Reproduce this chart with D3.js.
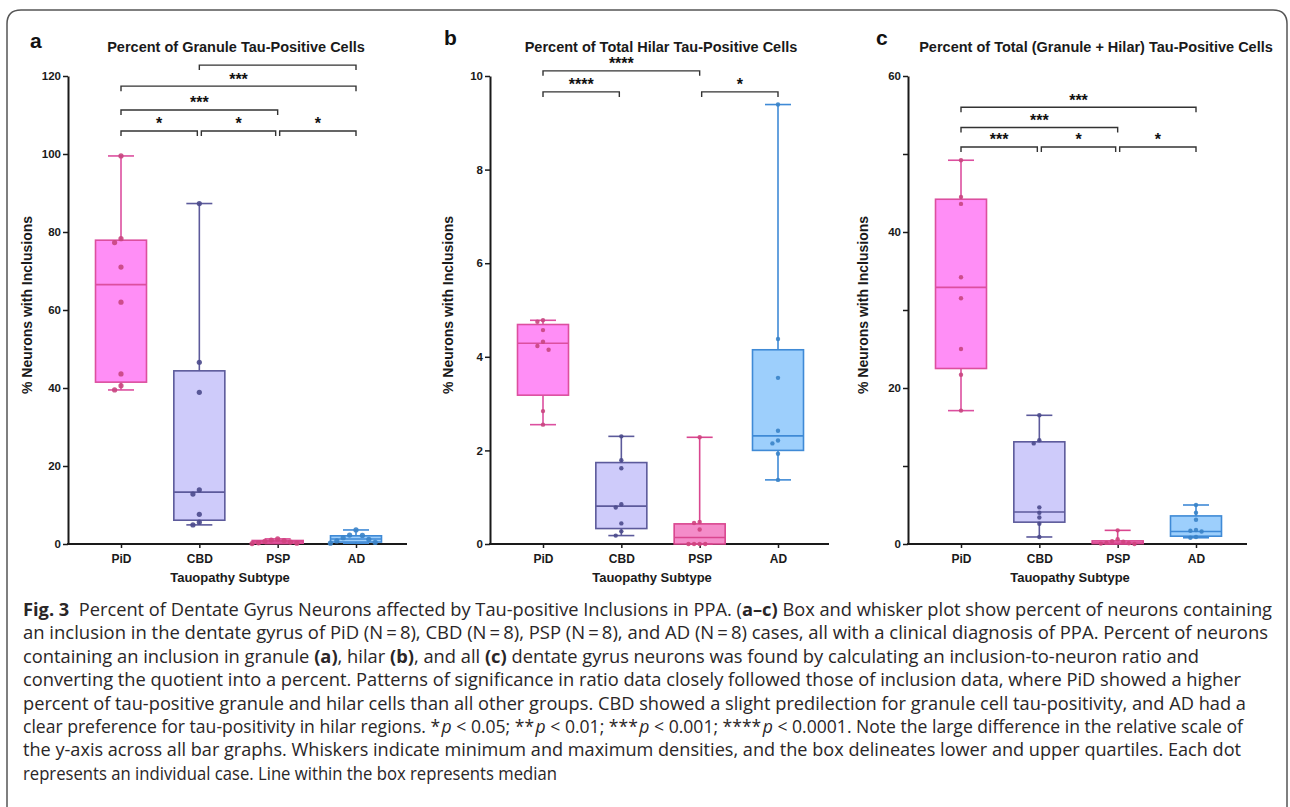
<!DOCTYPE html>
<html>
<head>
<meta charset="utf-8">
<title>Fig. 3</title>
<script src="https://d3js.org/d3.v7.min.js"></script>
<style>
  body { margin: 0; background: #fff; }
  svg text { font-family: "Liberation Sans", Arial, sans-serif; }
  .cap text { font-family: "Open Sans", "Noto Sans", sans-serif; }
</style>
</head>
<body>
<script>
const cats = ["PiD", "CBD", "PSP", "AD"];

// panel a - granule (% neurons with inclusions), one row per category
const granulePts = [
  [99.5, 78.3, 77.3, 71.0, 62.0, 43.6, 40.6, 39.5],
  [87.3, 46.6, 38.9, 13.9, 12.8, 7.6, 5.6, 4.9],
  [1.3, 1.0, 0.9, 0.7, 0.5, 0.3, 0.2, 0.1],
  [3.6, 2.3, 2.2, 1.6, 1.2, 0.8, 0.4, 0.2]
];
// min, q1, median, q3, max
const granuleBox = [
  [39.5, 41.5, 66.5, 77.9, 99.5],
  [4.9, 6.1, 13.3, 44.4, 87.3],
  [0.1, 0.2, 0.6, 0.9, 1.3],
  [0.2, 0.5, 1.3, 2.1, 3.6]
];
const granuleSig = [
  ["PiD", "CBD", 105.9, "*"], ["CBD", "PSP", 105.9, "*"], ["PSP", "AD", 105.9, "*"],
  ["PiD", "PSP", 111.3, "***"], ["PiD", "AD", 117.4, "***"], ["CBD", "AD", 122.8, ""]
];

// panel b - hilar
const hilarPts = [
  [4.78, 4.75, 4.57, 4.32, 4.23, 4.15, 2.84, 2.55],
  [2.30, 1.79, 1.62, 0.85, 0.78, 0.44, 0.27, 0.18],
  [2.28, 0.47, 0.45, 0.31, 0, 0, 0, 0],
  [9.39, 4.38, 3.55, 2.42, 2.21, 2.15, 1.93, 1.37]
];
const hilarBox = [
  [2.55, 3.18, 4.29, 4.69, 4.78],
  [0.18, 0.33, 0.81, 1.74, 2.30],
  [0, 0, 0.14, 0.43, 2.28],
  [1.37, 2.0, 2.31, 4.15, 9.39]
];
const hilarSig = [
  ["PiD", "CBD", 9.66, "****"], ["PSP", "AD", 9.66, "*"], ["PiD", "PSP", 10.11, "****"]
];

// panel c - total (granule + hilar)
const totalPts = [
  [49.2, 44.5, 43.6, 34.2, 31.5, 25.0, 21.7, 17.1],
  [16.5, 13.3, 12.9, 4.7, 4.0, 3.4, 2.6, 0.9],
  [1.75, 0.6, 0.35, 0.3, 0.15, 0.1, 0.05, 0],
  [5.0, 4.0, 3.1, 1.8, 1.7, 1.6, 0.9, 0.8]
];
const totalBox = [
  [17.1, 22.5, 32.9, 44.2, 49.2],
  [0.9, 2.8, 4.1, 13.1, 16.5],
  [0, 0.05, 0.12, 0.4, 1.75],
  [0.8, 1.0, 1.6, 3.6, 5.0]
];
const totalSig = [
  ["PiD", "CBD", 50.9, "***"], ["CBD", "PSP", 50.9, "*"], ["PSP", "AD", 50.9, "*"],
  ["PiD", "PSP", 53.4, "***"], ["PiD", "AD", 56.0, "***"]
];

const fills   = ["#ff8ef6", "#cecbfa", "#f48cc9", "#9dcffc"];
const strokes = ["#dc4f9f", "#5c5a9b", "#d9468f", "#3f8ad6"];
const dots    = ["#c8467f", "#4b4a8c", "#cf437e", "#3a83c8"];

const svg = d3.select("body").append("svg").attr("width", 1290).attr("height", 807);

// rounded frame
svg.append("path")
  .attr("d", "M7,810 V24 Q7,10 21,10 H1273 Q1287,10 1287,24 V810")
  .attr("fill", "none").attr("stroke", "#555").attr("stroke-width", 1.5);

const panels = [
  { x0: 68, letter: "a", lx: 30, ly: 48, title: "Percent of Granule Tau-Positive Cells", tx: 236, ylx: 27.5,
    yMax: 120, tickStep: 20, labelStep: 20, pts: granulePts, box: granuleBox, sig: granuleSig, r: 2.6 },
  { x0: 490, letter: "b", lx: 444, ly: 45, title: "Percent of Total Hilar Tau-Positive Cells", tx: 661, ylx: 448,
    yMax: 10, tickStep: 2, labelStep: 2, pts: hilarPts, box: hilarBox, sig: hilarSig, r: 2.2 },
  { x0: 908, letter: "c", lx: 876, ly: 45, title: "Percent of Total (Granule + Hilar) Tau-Positive Cells", tx: 1096, ylx: 863,
    yMax: 60, tickStep: 10, labelStep: 20, pts: totalPts, box: totalBox, sig: totalSig, r: 2.2 }
];

function dodge(vals, y, r) {
  const items = vals.map(v => ({ v, py: y(v), dx: 0 })).sort((a, b) => a.py - b.py);
  const step = 2 * r + 1.2;
  let group = [];
  const flush = () => {
    group.forEach((it, j) => { it.dx = j === 0 ? 0 : (j % 2 ? -1 : 1) * Math.ceil(j / 2) * step; });
    group = [];
  };
  items.forEach(it => {
    if (group.length && it.py - group[group.length - 1].py > 2 * r) flush();
    group.push(it);
  });
  flush();
  return items;
}

panels.forEach(p => {
  const g = svg.append("g");
  const y = d3.scaleLinear().domain([0, p.yMax]).range([544, 76]);
  const x = d3.scalePoint().domain(cats).range([p.x0 + 53, p.x0 + 288]);

  // letter + title
  g.append("text").attr("x", p.lx).attr("y", p.ly).attr("font-size", 21).attr("font-weight", "bold")
    .attr("fill", "#111").text(p.letter);
  g.append("text").attr("x", p.tx).attr("y", 52).attr("text-anchor", "middle").attr("font-size", 14.5)
    .attr("font-weight", "bold").attr("fill", "#1a1a1a").text(p.title);

  // y axis
  const yAxis = d3.axisLeft(y)
    .tickValues(d3.range(0, p.yMax + 1e-6, p.tickStep))
    .tickSize(5).tickSizeOuter(0).tickPadding(2)
    .tickFormat(v => Math.abs(v / p.labelStep - Math.round(v / p.labelStep)) < 1e-6 ? d3.format("d")(v) : "");
  const ya = g.append("g").attr("transform", `translate(${p.x0},0)`).call(yAxis);
  ya.select(".domain").attr("stroke", "#1a1a1a").attr("stroke-width", 2);
  ya.selectAll(".tick line").attr("stroke", "#1a1a1a").attr("stroke-width", 1.5);
  ya.selectAll(".tick text").attr("font-size", 11.5).attr("font-weight", "bold").attr("fill", "#1a1a1a")
    .attr("font-family", "Liberation Sans, Arial, sans-serif");

  // x axis
  const xAxis = d3.axisBottom(x).tickSize(4).tickSizeOuter(0).tickPadding(6);
  const xa = g.append("g").attr("transform", "translate(0,544)").call(xAxis);
  xa.select(".domain").remove();
  xa.append("line").attr("x1", p.x0 - 1).attr("x2", p.x0 + 339).attr("stroke", "#1a1a1a").attr("stroke-width", 2);
  xa.selectAll(".tick line").attr("stroke", "#1a1a1a").attr("stroke-width", 1.5);
  xa.selectAll(".tick text").attr("font-size", 12).attr("font-weight", "bold").attr("fill", "#1a1a1a")
    .attr("font-family", "Liberation Sans, Arial, sans-serif");

  // axis titles
  g.append("text").attr("x", p.x0 + 162).attr("y", 582).attr("text-anchor", "middle").attr("font-size", 13)
    .attr("font-weight", "bold").attr("fill", "#1a1a1a").text("Tauopathy Subtype");
  g.append("text").attr("transform", `translate(${p.ylx},305) rotate(-90)`).attr("dy", "0.35em")
    .attr("text-anchor", "middle").attr("font-size", 14).attr("font-weight", "bold").attr("fill", "#1a1a1a")
    .text("% Neurons with Inclusions");

  // boxes
  cats.forEach((c, i) => {
    const [mn, q1, md, q3, mx] = p.box[i];
    const cx = x(c);
    const bg = g.append("g").attr("stroke", strokes[i]).attr("stroke-width", 1.6);
    bg.append("rect").attr("x", cx - 25.5).attr("y", y(q3)).attr("width", 51)
      .attr("height", Math.max(0.5, y(q1) - y(q3))).attr("fill", fills[i]);
    bg.append("line").attr("x1", cx - 25.5).attr("x2", cx + 25.5).attr("y1", y(md)).attr("y2", y(md));
    bg.append("line").attr("x1", cx).attr("x2", cx).attr("y1", y(mx)).attr("y2", y(q3));
    bg.append("line").attr("x1", cx).attr("x2", cx).attr("y1", y(q1)).attr("y2", y(mn));
    [mn, mx].forEach(v => bg.append("line").attr("x1", cx - 13).attr("x2", cx + 13).attr("y1", y(v)).attr("y2", y(v)));

    g.append("g").selectAll("circle").data(dodge(p.pts[i], y, p.r)).join("circle")
      .attr("cx", d => cx + d.dx).attr("cy", d => d.py).attr("r", p.r)
      .attr("fill", dots[i]).attr("opacity", 0.9);
  });

  // significance brackets
  p.sig.forEach(([a, b, v, lab]) => {
    const adj = Math.abs(cats.indexOf(b) - cats.indexOf(a)) === 1;
    const x1 = x(a) + (adj && a !== "PiD" ? 2 : 0);
    const x2 = x(b) - (adj && b !== "AD" ? 2 : 0);
    const yy = y(v);
    g.append("path").attr("d", `M${x1},${yy + 5}V${yy}H${x2}V${yy + 5}`)
      .attr("fill", "none").attr("stroke", "#333").attr("stroke-width", 1.4);
    if (lab) {
      g.append("text").attr("x", (x1 + x2) / 2).attr("y", yy - 1.5).attr("text-anchor", "middle")
        .attr("font-size", 16).attr("font-weight", "bold").attr("fill", "#111").text(lab);
    }
  });
});

// caption: each line is a list of [text, style]
const captionLines = [
  [["Fig. 3", "b"], ["  Percent of Dentate Gyrus Neurons affected by Tau-positive Inclusions in PPA. (", ""], ["a–c)", "b"], [" Box and whisker plot show percent of neurons containing", ""]],
  [["an inclusion in the dentate gyrus of PiD (N\u2009=\u20098), CBD (N\u2009=\u20098), PSP (N\u2009=\u20098), and AD (N\u2009=\u20098) cases, all with a clinical diagnosis of PPA. Percent of neurons", ""]],
  [["containing an inclusion in granule ", ""], ["(a)", "b"], [", hilar ", ""], ["(b)", "b"], [", and all ", ""], ["(c)", "b"], [" dentate gyrus neurons was found by calculating an inclusion-to-neuron ratio and", ""]],
  [["converting the quotient into a percent. Patterns of significance in ratio data closely followed those of inclusion data, where PiD showed a higher", ""]],
  [["percent of tau-positive granule and hilar cells than all other groups. CBD showed a slight predilection for granule cell tau-positivity, and AD had a", ""]],
  [["clear preference for tau-positivity in hilar regions. *", ""], ["p", "i"], [" < 0.05; **", ""], ["p", "i"], [" < 0.01; ***", ""], ["p", "i"], [" < 0.001; ****", ""], ["p", "i"], [" < 0.0001. Note the large difference in the relative scale of", ""]],
  [["the y-axis across all bar graphs. Whiskers indicate minimum and maximum densities, and the box delineates lower and upper quartiles. Each dot", ""]],
  [["represents an individual case. Line within the box represents median", ""]]
];
const captionWidths = [1249, 1245, 1176, 1218, 1223, 1220, 1218, 534];

const cap = svg.append("g").attr("class", "cap");
captionLines.forEach((parts, i) => {
  const t = cap.append("text").attr("x", 23).attr("y", 616 + i * 23.4)
    .attr("font-size", 18).attr("fill", "#2a2627")
    .attr("textLength", captionWidths[i]).attr("lengthAdjust", "spacingAndGlyphs")
    .attr("xml:space", "preserve").style("white-space", "pre");
  parts.forEach(([s, st]) => {
    const ts = t.append("tspan").text(s);
    if (st === "b") ts.attr("font-weight", "bold");
    if (st === "i") ts.attr("font-style", "italic").attr("dx", 1.5);
  });
});
</script>
</body>
</html>
